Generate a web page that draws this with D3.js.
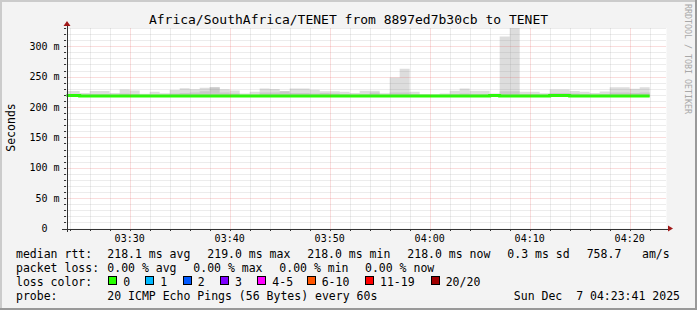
<!DOCTYPE html>
<html lang="en">

<head>
    <title>SmokePing TENET</title>
    <meta charset="utf-8" />
    <script src="https://d3js.org/d3.v7.min.js"></script>
    <style>
        body,
        html {
            margin: 0;
            padding: 0;
            overflow: hidden;
            background: #f3f3f3;
        }

        text {
            font-family: "DejaVu Sans Mono", monospace;
            fill: #000;
        }
    </style>
</head>

<body>
    <div id="chart"></div>
    <script>
        // one sample per minute, first one starts 03:23
        const firstSample = new Date(Date.UTC(2025, 11, 7, 3, 23, 0));
        const viewStart = new Date(Date.UTC(2025, 11, 7, 3, 23, 41));
        const viewEnd = new Date(Date.UTC(2025, 11, 7, 4, 23, 41));

        // median rtt (ms)
        const medianRtt = [
            219, 219, 218, 218, 218, 218, 218, 218, 218, 218,
            218, 218, 218, 218, 218, 218, 218, 218, 218, 218,
            218, 218, 218, 218, 218, 218, 218, 218, 218, 218,
            218, 218, 218, 218, 218, 218, 218, 218, 218, 218,
            218, 218, 218, 219, 218, 218, 218, 218, 218, 219,
            219, 218, 218, 218, 218, 218, 218, 218, 218
        ];
        // top of the smoke (slowest ping, ms)
        const maxRtt = [
            226.5, 226.5, 223, 226.5, 226.5, 223, 228.7, 227, 221.6, 225,
            222.7, 228, 231, 229, 231.5, 233, 229, 227, 222, 225,
            230.5, 229.5, 226, 230.5, 230.5, 228.5, 226, 226, 225, 223,
            226.6, 226.6, 222.7, 248.6, 263, 225, 221.5, 221, 222, 226.6,
            230.4, 226.6, 226.6, 222, 316, 330, 225, 225, 222.7, 228.7,
            228.7, 226.5, 225, 223, 225.5, 232.6, 232.6, 230, 232.6
        ];
        // upper edge of the denser inner smoke (ms)
        const midRtt = [
            221, 221, 220, 221, 221, 220, 222, 221, 219.5, 220,
            220, 222, 223, 224, 226, 232, 224, 222, 219.5, 220,
            224, 224, 226, 223, 223, 222, 223, 222, 221, 220,
            221, 224, 220, 224, 224, 221, 219.5, 219.5, 220, 221,
            222, 221, 221, 220, 226, 226, 221, 221, 220, 223,
            223, 222, 221, 220, 221, 224, 224, 223, 224
        ];
        // fastest ping (ms)
        const minRtt = [
            217, 217, 216.5, 216.5, 216.5, 216.5, 216.5, 216.5, 216.5, 216.5,
            216.5, 216.5, 216.5, 216.5, 216.5, 216.5, 216.5, 216.5, 216.5, 216.5,
            216.5, 216.5, 216.5, 216.5, 216.5, 216.5, 216.5, 216.5, 216.5, 216.5,
            216.5, 216.5, 216.5, 216.5, 216.5, 216.5, 216.5, 216.5, 216.5, 216.5,
            216.5, 216.5, 216.5, 217, 216.5, 216.5, 216.5, 216.5, 216.5, 217,
            217, 216.5, 216.5, 216.5, 216.5, 216.5, 216.5, 216.5, 216.5
        ];

        const yTicks = [0, 50, 100, 150, 200, 250, 300];
        const lossLabels = ["0", "1", "2", "3", "4-5", "6-10", "11-19", "20/20"];
        const lossColors = ["#26ff00", "#00b8ff", "#0059ff", "#7e00ff", "#ff00ff", "#ff5500", "#ff0000", "#a10000"];

        const titleText = "Africa/SouthAfrica/TENET from 8897ed7b30cb to TENET";
        const rttStats = ["218.1 ms avg", "219.0 ms max", "218.0 ms min", "218.0 ms now", "0.3 ms sd", "758.7", "am/s"];
        const lossStats = ["0.00 % avg", "0.00 % max", "0.00 % min", "0.00 % now"];
        const probeText = "20 ICMP Echo Pings (56 Bytes) every 60s";
        const dateText = "Sun Dec  7 04:23:41 2025";

        const W = 697, H = 310;
        const svg = d3.select("#chart").append("svg")
            .attr("width", W)
            .attr("height", H);

        // background with rrdtool style shading
        svg.append("rect").attr("width", W).attr("height", H).attr("fill", "#f3f3f3");
        svg.append("rect").attr("x", 0).attr("y", 0).attr("width", W).attr("height", 2).attr("fill", "#cbcbcb");
        svg.append("rect").attr("x", 0).attr("y", 0).attr("width", 2).attr("height", H).attr("fill", "#cbcbcb");
        svg.append("rect").attr("x", 0).attr("y", H - 2).attr("width", W).attr("height", 2).attr("fill", "#999");
        svg.append("rect").attr("x", W - 2).attr("y", 0).attr("width", 2).attr("height", H).attr("fill", "#999");

        const x = d3.scaleTime().domain([viewStart, viewEnd]).range([66.5, 666.5]);
        const y = d3.scaleLinear().domain([0, 330]).range([228.5, 28]);
        const px = v => Math.round(v) + 0.5;

        // canvas
        svg.append("rect")
            .attr("x", x.range()[0]).attr("y", y.range()[1])
            .attr("width", x.range()[1] - x.range()[0])
            .attr("height", y.range()[0] - y.range()[1])
            .attr("fill", "#fff");

        svg.append("clipPath").attr("id", "plot")
            .append("rect")
            .attr("x", x.range()[0]).attr("y", y.range()[1])
            .attr("width", x.range()[1] - x.range()[0])
            .attr("height", y.range()[0] - y.range()[1]);

        // sample table
        const samples = medianRtt.map((m, i) => ({
            t: d3.utcMinute.offset(firstSample, i),
            med: m, max: maxRtt[i], mid: midRtt[i], min: minRtt[i]
        }));
        const last = samples[samples.length - 1];
        const stepData = samples.concat([{ ...last, t: d3.utcMinute.offset(last.t, 1) }]);

        const g = svg.append("g").attr("clip-path", "url(#plot)");

        // smoke
        g.append("path")
            .datum(stepData)
            .attr("fill", "#dddddd")
            .attr("d", d3.area().curve(d3.curveStepAfter)
                .x(d => x(d.t)).y0(d => y(d.min)).y1(d => y(d.max)));
        g.append("path")
            .datum(stepData)
            .attr("fill", "#c9c9c9")
            .attr("d", d3.area().curve(d3.curveStepAfter)
                .x(d => x(d.t)).y0(d => y(d.min)).y1(d => y(d.mid)));

        // grid
        const minorColor = "rgba(140,140,140,0.33)";
        const majorColor = "rgba(230,70,70,0.36)";
        const grid = svg.append("g").attr("stroke-dasharray", "1,1").attr("stroke-width", 1);
        d3.range(10, 331, 10).filter(v => v % 50 !== 0).forEach(v => {
            grid.append("line")
                .attr("x1", x.range()[0]).attr("x2", x.range()[1])
                .attr("y1", px(y(v))).attr("y2", px(y(v)))
                .attr("stroke", minorColor);
        });
        const minorTimes = d3.utcMinute.every(2).range(viewStart, viewEnd).filter(t => t.getUTCMinutes() % 10 !== 0);
        const majorTimes = d3.utcMinute.every(10).range(viewStart, viewEnd);
        minorTimes.forEach(t => {
            grid.append("line")
                .attr("x1", px(x(t))).attr("x2", px(x(t)))
                .attr("y1", y.range()[0]).attr("y2", y.range()[1])
                .attr("stroke", minorColor);
        });
        yTicks.filter(v => v > 0).forEach(v => {
            grid.append("line")
                .attr("x1", x.range()[0]).attr("x2", x.range()[1])
                .attr("y1", px(y(v))).attr("y2", px(y(v)))
                .attr("stroke", majorColor);
        });
        majorTimes.forEach(t => {
            grid.append("line")
                .attr("x1", px(x(t))).attr("x2", px(x(t)))
                .attr("y1", y.range()[0]).attr("y2", y.range()[1])
                .attr("stroke", majorColor);
        });

        // median line, coloured by loss
        g.append("path")
            .datum(stepData)
            .attr("fill", "none")
            .attr("stroke", lossColors[0])
            .attr("stroke-width", 3)
            .attr("d", d3.line().curve(d3.curveStepAfter)
                .x(d => x(d.t)).y(d => y(d.med)));

        // axes
        const axis = svg.append("g").attr("stroke", "#333").attr("stroke-width", 1);
        axis.append("line").attr("x1", 62).attr("x2", 668).attr("y1", px(y(0))).attr("y2", px(y(0)));
        axis.append("line").attr("x1", px(x.range()[0])).attr("x2", px(x.range()[0])).attr("y1", 232).attr("y2", 25);
        d3.range(10, 331, 10).forEach(v => {
            axis.append("line").attr("x1", 64).attr("x2", 66).attr("y1", px(y(v))).attr("y2", px(y(v)));
        });
        minorTimes.concat(majorTimes).forEach(t => {
            axis.append("line").attr("x1", px(x(t))).attr("x2", px(x(t))).attr("y1", 229).attr("y2", 231);
        });
        svg.append("path").attr("fill", "#a01818")
            .attr("d", "M668,225.5L673,228.5L668,231.5Z");
        svg.append("path").attr("fill", "#a01818")
            .attr("d", "M63.5,26L67,21L70.5,26Z");

        // tick labels
        svg.append("g").selectAll("text")
            .data(yTicks)
            .join("text")
            .attr("x", d => d === 0 ? 47.5 : 59.5)
            .attr("y", d => y(d) + 3.6)
            .attr("text-anchor", "end")
            .style("font-size", "10px")
            .text(d => d === 0 ? "0" : d + " m");
        svg.append("g").selectAll("text")
            .data(majorTimes)
            .join("text")
            .attr("x", d => x(d))
            .attr("y", 241.5)
            .attr("text-anchor", "middle")
            .style("font-size", "10px")
            .text(d3.utcFormat("%H:%M"));

        // title & labels
        svg.append("text")
            .attr("x", W / 2).attr("y", 24)
            .attr("text-anchor", "middle")
            .style("font-size", "13px")
            .text(titleText);
        svg.append("text")
            .attr("transform", "translate(15,127.5) rotate(-90)")
            .attr("text-anchor", "middle")
            .style("font-size", "11.5px")
            .text("Seconds");
        svg.append("text")
            .attr("transform", "translate(684.5,4) rotate(90)")
            .style("font-size", "8.3px")
            .style("fill", "#a8a8a8")
            .text("RRDTOOL / TOBI OETIKER");

        // legend
        const leg = svg.append("g").style("font-size", "11.5px");
        const put = (str, lx, ly) => leg.append("text").attr("x", lx).attr("y", ly)
            .attr("xml:space", "preserve").text(str);

        put("median rtt:", 16, 257.5);
        [107.3, 207.3, 307.3, 407.3, 507.3, 586.7, 642].forEach((lx, i) => put(rttStats[i], lx, 257.5));

        put("packet loss:", 16, 271.5);
        [107.3, 193.3, 279.3, 365].forEach((lx, i) => put(lossStats[i], lx, 271.5));

        put("loss color:", 16, 285.5);
        const boxX = [108.3, 145.3, 182.7, 220, 257.3, 306.7, 365, 430.7];
        boxX.forEach((bx, i) => {
            leg.append("rect")
                .attr("x", Math.round(bx) + 0.5).attr("y", 276.5)
                .attr("width", 8).attr("height", 8)
                .attr("fill", lossColors[i])
                .attr("stroke", "#000");
            put(lossLabels[i], bx + 15, 285.5);
        });

        put("probe:", 16, 299.5);
        put(probeText, 107.3, 299.5);
        put(dateText, 680, 299.5).attr("text-anchor", "end");
    </script>
</body>

</html>
